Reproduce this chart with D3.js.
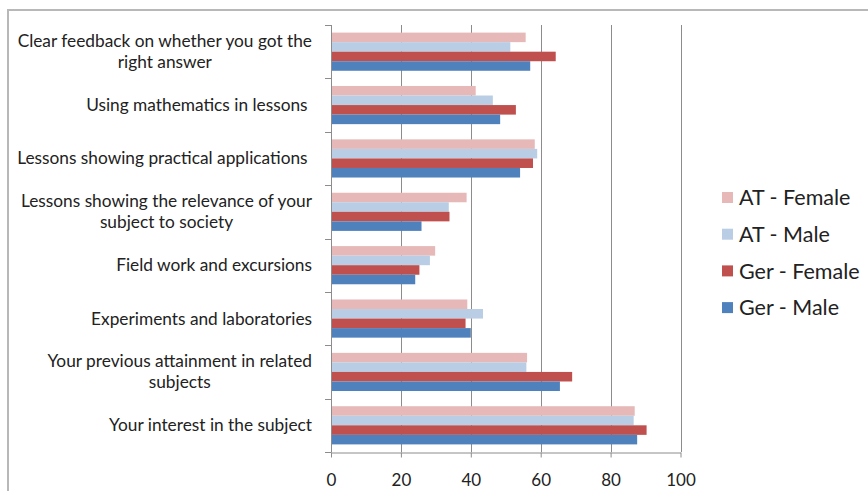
<!DOCTYPE html>
<html>
<head>
<meta charset="utf-8">
<script src="https://cdn.jsdelivr.net/npm/d3@7"></script>
<style>
  html, body { margin: 0; padding: 0; background: #fff; }
  svg text { font-family: Lato, "Open Sans", sans-serif; white-space: pre; }
</style>
</head>
<body>
<svg id="chart" width="868" height="491"></svg>
<script>
// ---- data ----
const categories = [
  "Clear feedback on whether you got the|right answer",
  "Using mathematics in lessons ",
  "Lessons showing practical applications ",
  "Lessons showing the relevance of your|subject to society",
  "Field work and excursions",
  "Experiments and laboratories",
  "Your previous attainment in related|subjects",
  "Your interest in the subject"
];
const seriesNames = ["AT - Female", "AT - Male", "Ger - Female", "Ger - Male"];
const atFemale  = [55.7, 41.4, 58.3, 38.8, 29.8, 39.0, 56.1, 86.9];
const atMale    = [51.3, 46.3, 59.0, 33.7, 28.3, 43.5, 55.9, 86.6];
const gerFemale = [64.3, 52.9, 57.8, 33.9, 25.3, 38.5, 69.0, 90.3];
const gerMale   = [57.0, 48.4, 54.1, 25.9, 24.1, 40.0, 65.5, 87.6];
const xTicks = [0, 20, 40, 60, 80, 100];
const colors = ["#E6B9B8", "#B9CDE5", "#C0504D", "#4F81BD"];

const seriesValues = [atFemale, atMale, gerFemale, gerMale];

// ---- chart ----
const svg = d3.select("#chart");

// chart area border (top and left visible)
svg.append("rect")
  .attr("x", 8).attr("y", 10).attr("width", 900).attr("height", 520)
  .attr("fill", "none").attr("stroke", "#b8b8b8").attr("stroke-width", 2);

const x = d3.scaleLinear().domain([0, 100]).range([331, 680.5]);
const y0 = d3.scaleBand().domain(categories).range([25, 452]).padding(0);
const inner = 7.6;
const y1 = d3.scaleBand().domain(seriesNames)
  .range([inner, y0.bandwidth() - inner]).padding(0);

// gridlines
svg.append("g").selectAll("line")
  .data(xTicks.filter(d => d > 0))
  .join("line")
  .attr("x1", d => Math.round(x(d)) + 0.5).attr("x2", d => Math.round(x(d)) + 0.5)
  .attr("y1", 25).attr("y2", 452)
  .attr("stroke", "#8c8c8c").attr("stroke-width", 1);

// bars
const groups = svg.append("g").selectAll("g")
  .data(categories)
  .join("g")
  .attr("transform", c => `translate(0,${y0(c)})`);

groups.selectAll("rect")
  .data((c, ci) => seriesNames.map((s, si) => ({ s, si, v: seriesValues[si][ci] })))
  .join("rect")
  .attr("x", x(0))
  .attr("y", d => y1(d.s))
  .attr("width", d => x(d.v) - x(0))
  .attr("height", y1.bandwidth())
  .attr("fill", d => colors[d.si]);

// vertical axis line + tick marks at band boundaries
const boundaries = categories.map(c => y0(c)).concat([y0.range()[1]]);
svg.append("line")
  .attr("x1", x(0) + 0.5).attr("x2", x(0) + 0.5)
  .attr("y1", 25).attr("y2", 452)
  .attr("stroke", "#8c8c8c").attr("stroke-width", 1);
svg.append("g").selectAll("line")
  .data(boundaries)
  .join("line")
  .attr("x1", x(0) - 6).attr("x2", x(0) + 0.5)
  .attr("y1", d => Math.round(d) + 0.5).attr("y2", d => Math.round(d) + 0.5)
  .attr("stroke", "#8c8c8c").attr("stroke-width", 1);

// horizontal axis
const xAxis = d3.axisBottom(x).tickValues(xTicks).tickSize(5).tickSizeOuter(0).tickPadding(16);
const gx = svg.append("g").attr("transform", "translate(0,452.5)").call(xAxis);
gx.select(".domain").attr("stroke", "#8c8c8c");
gx.selectAll(".tick line").attr("stroke", "#8c8c8c");
gx.selectAll(".tick text")
  .attr("font-family", "Lato, sans-serif")
  .attr("font-size", 17).attr("fill", "#222");

// category labels
const labelRight = 312;
const lineH = 21;
categories.forEach(c => {
  const lines = c.split("|");
  const cy = y0(c) + y0.bandwidth() / 2;
  const g = svg.append("g");
  const texts = lines.map((ln, i) => g.append("text")
    .attr("font-size", 17.3).attr("fill", "#222")
    .attr("y", cy + (i - (lines.length - 1) / 2) * lineH)
    .attr("dy", "0.35em")
    .text(ln));
  const widths = texts.map(t => t.node().getComputedTextLength());
  const maxW = d3.max(widths);
  texts.forEach(t => t.attr("x", labelRight - maxW / 2).attr("text-anchor", "middle"));
});

// legend
const legend = svg.append("g").selectAll("g")
  .data(seriesNames)
  .join("g")
  .attr("transform", (d, i) => `translate(722,${197.5 + i * 36.7})`);
legend.append("rect")
  .attr("x", 0).attr("y", -5.5).attr("width", 11).attr("height", 11)
  .attr("fill", (d, i) => colors[i]);
legend.append("text")
  .attr("x", 17).attr("dy", "0.36em")
  .attr("font-size", 21.5).attr("fill", "#222")
  .text(d => d);
</script>
</body>
</html>
